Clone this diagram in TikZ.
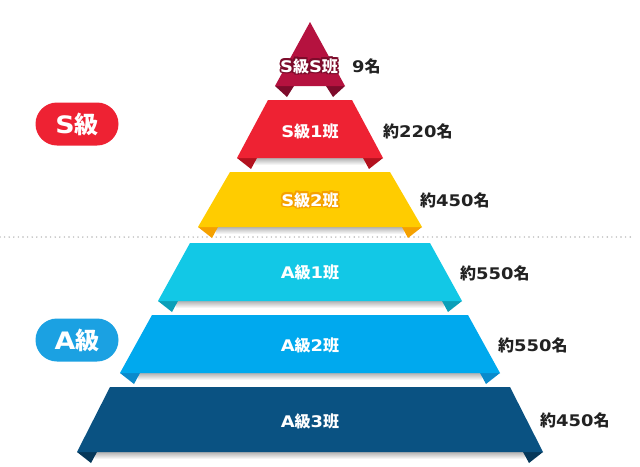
\documentclass[tikz,border=0pt]{standalone}
\usepackage{fontspec}
\newfontfamily\jpfont{Noto Sans CJK JP}
\newfontfamily\latfont{DejaVu Sans}[FakeStretch=1.12]
\usetikzlibrary{calc}
\newcommand\mkJ[1]{{\jpfont\bfseries #1}}
\newcommand\mkL[1]{{\latfont\bfseries #1}}
\definecolor{cS}{HTML}{B5123F}\definecolor{cSd}{HTML}{7D0B2B}
\definecolor{cA}{HTML}{EE2233}\definecolor{cAd}{HTML}{B3121F}
\definecolor{cB}{HTML}{FFCC00}\definecolor{cBd}{HTML}{F5A100}
\definecolor{cC}{HTML}{12C8E6}\definecolor{cCd}{HTML}{0B9FB8}
\definecolor{cD}{HTML}{00A9EE}\definecolor{cDd}{HTML}{0A8ACB}
\definecolor{cE}{HTML}{0A5282}\definecolor{cEd}{HTML}{06385A}
\definecolor{pillS}{HTML}{EE2233}\definecolor{pillA}{HTML}{1BA1E2}
\definecolor{txtdark}{HTML}{222222}
% tier: ytop, xtl, xtr, ybot, xbl, xbr, colour, dark colour
\newcommand\mytier[8]{%
  \shade[top color=black!30, bottom color=white] (#5+18,#4) rectangle (#6-18,#4+7);
  \fill[#8] (#5,#4) -- (#5+20,#4) -- (#5+14,#4+11) -- cycle;
  \fill[#8] (#6,#4) -- (#6-20,#4) -- (#6-14,#4+11) -- cycle;
  \fill[#7] (#2,#1) -- (#3,#1) -- (#6,#4) -- (#5,#4) -- cycle;
}
% one offset copy inside a single box
\newcommand\offcopy[4]{\rlap{\hspace*{#3}\raisebox{#4}{\textcolor{#1}{#2}}}}
% outlined white text: outline colour, width, text
\newcommand\outl[3]{\leavevmode
  \offcopy{#1}{#3}{\dimexpr#2\relax}{0pt}%
  \offcopy{#1}{#3}{-\dimexpr#2\relax}{0pt}%
  \offcopy{#1}{#3}{0pt}{\dimexpr#2\relax}%
  \offcopy{#1}{#3}{0pt}{-\dimexpr#2\relax}%
  \offcopy{#1}{#3}{0.7\dimexpr#2\relax}{0.7\dimexpr#2\relax}%
  \offcopy{#1}{#3}{-0.7\dimexpr#2\relax}{0.7\dimexpr#2\relax}%
  \offcopy{#1}{#3}{0.7\dimexpr#2\relax}{-0.7\dimexpr#2\relax}%
  \offcopy{#1}{#3}{-0.7\dimexpr#2\relax}{-0.7\dimexpr#2\relax}%
  \textcolor{white}{#3}}
\tikzset{
  tierlbl/.style={inner sep=0pt, text=white, font=\fontsize{16}{16}\selectfont},
  cnt/.style={inner sep=0pt, anchor=west, text=txtdark, font=\fontsize{16}{16}\selectfont},
  pill/.style={minimum width=83pt, minimum height=43pt, rounded corners=21.5pt, inner sep=0pt,
     text=white, font=\fontsize{24}{24}\selectfont},
}
\begin{document}
\begin{tikzpicture}[x=1pt,y=-1pt]
\useasboundingbox (0,0) rectangle (640,466);
\fill[white] (0,0) rectangle (640,466);
% dotted separator
\coordinate (dl) at (0,237);
\coordinate (dr) at (632,237);
\draw[black!28, line width=1.6pt, line cap=round, dash pattern=on 0pt off 4.6pt] (dl) -- (dr);
% top triangle
\fill[cSd] (275,86) -- (294,86) -- (287,97) -- cycle;
\fill[cSd] (345,86) -- (326,86) -- (333,97) -- cycle;
\fill[cS] (310,22) -- (345,86) -- (275,86) -- cycle;
% tiers
\mytier{100}{268}{352}{158}{237}{383}{cA}{cAd}
\mytier{172}{230}{390}{227}{198}{422}{cB}{cBd}
\mytier{243}{190}{430}{301}{158}{462}{cC}{cCd}
\mytier{315}{152}{468}{373}{120}{500}{cD}{cDd}
\mytier{387}{110}{510}{452}{77}{543}{cE}{cEd}
% tier labels
\node[tierlbl] (t0) at (309,66) {\outl{cSd}{1.8pt}{\mkL{S}\mkJ{級}\mkL{S}\mkJ{班}}};
\node[tierlbl] (t1) at (310,131) {\mkL{S}\mkJ{級}\mkL{1}\mkJ{班}};
\node[tierlbl] (t2) at (310,200) {\outl{cBd}{1.8pt}{\mkL{S}\mkJ{級}\mkL{2}\mkJ{班}}};
\node[tierlbl] (t3) at (310,272) {\mkL{A}\mkJ{級}\mkL{1}\mkJ{班}};
\node[tierlbl] (t4) at (310,345) {\mkL{A}\mkJ{級}\mkL{2}\mkJ{班}};
\node[tierlbl] (t5) at (310,421) {\mkL{A}\mkJ{級}\mkL{3}\mkJ{班}};
% counts
\node[cnt] (n0) at (352,66) {\mkL{9}\mkJ{名}};
\node[cnt] (n1) at (383,131) {\mkJ{約}\mkL{220}\mkJ{名}};
\node[cnt] (n2) at (420,200) {\mkJ{約}\mkL{450}\mkJ{名}};
\node[cnt] (n3) at (460,273) {\mkJ{約}\mkL{550}\mkJ{名}};
\node[cnt] (n4) at (498,345) {\mkJ{約}\mkL{550}\mkJ{名}};
\node[cnt] (n5) at (540,420) {\mkJ{約}\mkL{450}\mkJ{名}};
% level pills
\node[pill, fill=pillS] (pS) at (77,124) {\mkL{S}\mkJ{級}};
\node[pill, fill=pillA] (pA) at (77,340) {\mkL{A}\mkJ{級}};
\end{tikzpicture}
\end{document}
